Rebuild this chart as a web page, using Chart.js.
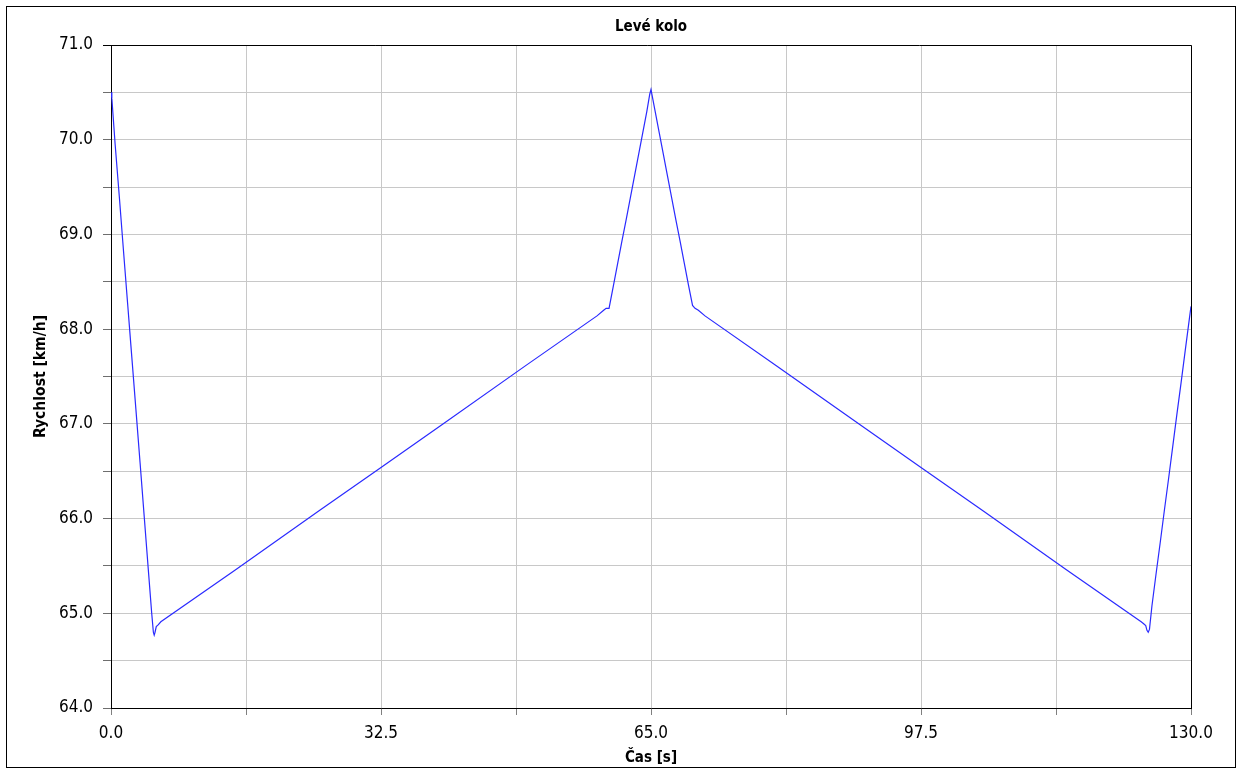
<!DOCTYPE html>
<html>
<head>
<meta charset="utf-8">
<title>Levé kolo</title>
<script src="https://cdn.jsdelivr.net/npm/chart.js@4/dist/chart.umd.min.js"></script>
<style>
  html, body { margin: 0; padding: 0; background: #ffffff; }
  #wrap { width: 1242px; height: 774px; position: relative; }
</style>
</head>
<body>
<div id="wrap"><canvas id="chart" width="1242" height="774"></canvas></div>
<script>
// Time samples [s]
const times = [
  0, 0.1, 0.5, 1.0, 1.5, 2.0, 2.5, 3.0, 3.5, 4.0, 4.5, 4.9, 5.1, 5.2, 5.3, 5.45, 5.7, 6.0,
  15, 25, 32.5, 40, 50, 58.5, 59.3, 59.6, 59.95,
  60.5, 61.0, 61.5, 62.0, 62.5, 63.0, 63.5, 64.0, 64.5, 64.85, 65.0, 65.15, 65.5,
  66.0, 66.5, 67.0, 67.5, 68.0, 68.5, 69.0, 69.5, 70.0, 70.3, 70.7, 71.5,
  80, 90, 97.5, 105, 115, 124.0, 124.3, 124.55, 124.7, 124.85, 125.0,
  125.3, 125.8, 126.3, 126.8, 127.3, 127.8, 128.3, 128.8, 129.3, 129.7, 130.0
];

// Left wheel speed [km/h]
const speeds = [
  70.50, 70.44, 69.95, 69.40, 68.83, 68.27, 67.71, 67.15, 66.59, 66.02, 65.45, 65.00, 64.80, 64.77, 64.80, 64.86, 64.88, 64.91,
  65.46, 66.08, 66.54, 67.00, 67.62, 68.14, 68.20, 68.22, 68.22,
  68.47, 68.70, 68.93, 69.15, 69.38, 69.61, 69.84, 70.07, 70.30, 70.48, 70.53, 70.46, 70.30,
  70.07, 69.84, 69.61, 69.38, 69.15, 68.93, 68.70, 68.47, 68.25, 68.22, 68.20, 68.14,
  67.62, 67.00, 66.54, 66.08, 65.46, 64.91, 64.89, 64.87, 64.82, 64.80, 64.83,
  65.08, 65.42, 65.75, 66.09, 66.42, 66.76, 67.10, 67.43, 67.77, 68.04, 68.24
];

// Labelled axis ticks
const xTickValues = [0, 32.5, 65, 97.5, 130];
const xTickLabels = ['0.0', '32.5', '65.0', '97.5', '130.0'];
const yTickValues = [64, 65, 66, 67, 68, 69, 70, 71];
const yTickLabels = ['64.0', '65.0', '66.0', '67.0', '68.0', '69.0', '70.0', '71.0'];

const chartTitle = 'Levé kolo';
const xTitle = 'Čas [s]';
const yTitle = 'Rychlost [km/h]';

const FONT = "'DejaVu Sans Condensed', 'DejaVu Sans', sans-serif";

function labelFor(values, labels, v) {
  for (let i = 0; i < values.length; i++) {
    if (Math.abs(values[i] - v) < 1e-6) return labels[i];
  }
  return '';
}

const points = times.map((t, i) => ({ x: t, y: speeds[i] }));

// Outer frame, plot-area frame and chart title
const framePlugin = {
  id: 'frame',
  afterDraw(chart) {
    const { ctx, chartArea: a } = chart;
    ctx.save();
    ctx.strokeStyle = '#000000';
    ctx.lineWidth = 1;
    ctx.strokeRect(6.5, 6.5, 1229, 761);
    ctx.beginPath();
    ctx.moveTo(Math.round(a.left) - 8, Math.round(a.top) + 0.5);
    ctx.lineTo(Math.round(a.right) + 0.5, Math.round(a.top) + 0.5);
    ctx.lineTo(Math.round(a.right) + 0.5, Math.round(a.bottom) + 0.5);
    ctx.stroke();
    ctx.fillStyle = '#000000';
    ctx.font = "bold 15px " + FONT;
    ctx.textAlign = 'center';
    ctx.textBaseline = 'middle';
    ctx.fillText(chartTitle, (a.left + a.right) / 2, 27);
    ctx.restore();
  }
};

new Chart(document.getElementById('chart'), {
  type: 'line',
  data: {
    datasets: [{
      data: points,
      borderColor: '#2a2aff',
      borderWidth: 1.2,
      pointRadius: 0,
      tension: 0,
      fill: false
    }]
  },
  options: {
    responsive: false,
    animation: false,
    events: [],
    layout: { padding: { left: 0, right: 51, top: 45, bottom: 0 } },
    plugins: { legend: { display: false }, tooltip: { enabled: false }, title: { display: false } },
    scales: {
      x: {
        type: 'linear',
        min: 0,
        max: 130,
        afterFit(scale) { scale.height = 66; },
        afterBuildTicks(scale) {
          const t = [];
          for (let k = 0; k <= 8; k++) t.push({ value: k * 16.25 });
          scale.ticks = t;
        },
        grid: { color: '#c8c8c8', lineWidth: 1, tickLength: 7, tickColor: '#808080', drawTicks: true },
        border: { color: '#000000', width: 1 },
        ticks: {
          autoSkip: false,
          maxRotation: 0,
          padding: 8,
          color: '#000000',
          font: { family: FONT, size: 17 },
          callback: (v) => labelFor(xTickValues, xTickLabels, v)
        },
        title: {
          display: true,
          text: xTitle,
          color: '#000000',
          font: { family: FONT, size: 15, weight: 'bold' },
          padding: { top: 0, bottom: 7 }
        }
      },
      y: {
        type: 'linear',
        min: 64,
        max: 71,
        afterFit(scale) { scale.width = 111; },
        afterBuildTicks(scale) {
          const t = [];
          for (let k = 0; k <= 14; k++) t.push({ value: 64 + k * 0.5 });
          scale.ticks = t;
        },
        grid: { color: '#c8c8c8', lineWidth: 1, tickLength: 8, tickColor: '#6e6e6e', drawTicks: true },
        border: { color: '#000000', width: 1 },
        ticks: {
          autoSkip: false,
          padding: 10,
          color: '#000000',
          font: { family: FONT, size: 17 },
          callback: (v) => labelFor(yTickValues, yTickLabels, v)
        },
        title: {
          display: true,
          text: yTitle,
          color: '#000000',
          font: { family: FONT, size: 15.5, weight: 'bold' },
          padding: { top: 32, bottom: 0 }
        }
      }
    }
  },
  plugins: [framePlugin]
});
</script>
</body>
</html>
